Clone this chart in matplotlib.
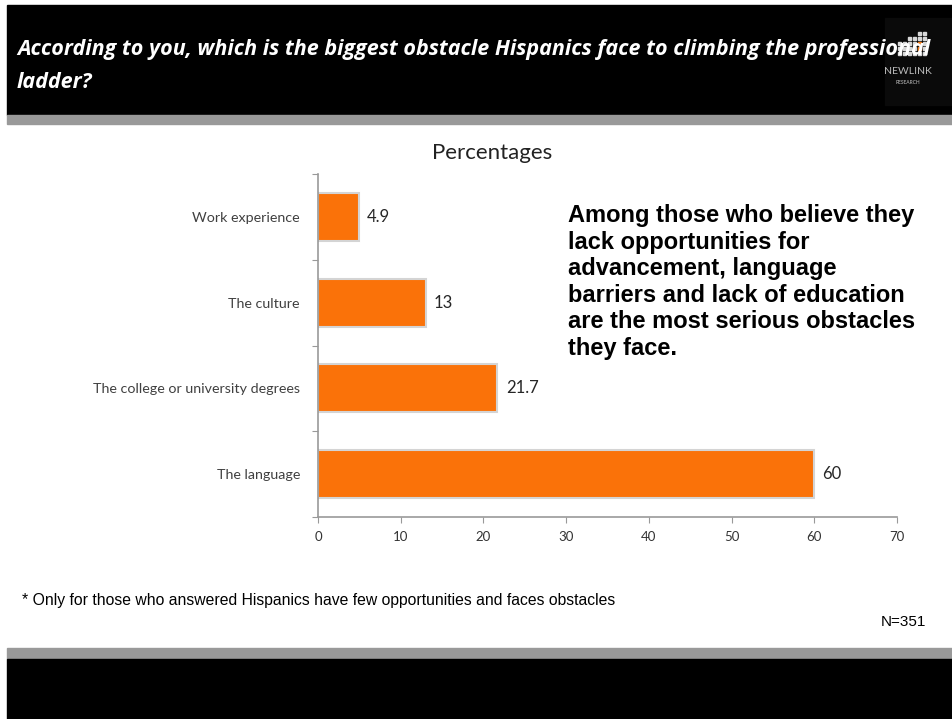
import numpy as np
import matplotlib.pyplot as plt
from matplotlib.patches import Rectangle

# Survey answers, bottom to top
categories = ['The language', 'The college or university degrees',
              'The culture', 'Work experience']
percentages = [60, 21.7, 13, 4.9]
value_labels = ['60', '21.7', '13', '4.9']
x_ticks = [0, 10, 20, 30, 40, 50, 60, 70]

question_lines = ['According to you, which is the biggest obstacle Hispanics face to climbing the professional',
                  'ladder?']
takeaway = ('Among those who believe they\n'
            'lack opportunities for\n'
            'advancement, language\n'
            'barriers and lack of education\n'
            'are the most serious obstacles\n'
            'they face.')
footnote = '* Only for those who answered Hispanics have few opportunities and faces obstacles'
sample = 'N=351'

W, H = 952, 719
fig = plt.figure(figsize=(W / 100, H / 100), dpi=100)
fig.patch.set_facecolor('white')

# background bands in pixel coords (converted to figure fraction)
def band(x0, y0, x1, y1, color, z=0):
    fig.patches.append(Rectangle((x0 / W, 1 - y1 / H), (x1 - x0) / W, (y1 - y0) / H,
                                 transform=fig.transFigure, color=color, zorder=z))

band(7, 5, W, 115, 'black')
band(7, 115, W, 124, '#999999')
band(7, 648, W, 659, '#999999')
band(7, 659, W, H, 'black')
band(885, 18, W, 105, '#0a0a0a', z=1)

# small logo
for i in range(6):
    for j in range(3 + i // 2):
        c = '#f07a18' if (i == 4 and j in (1, 2)) else '#d8d8d8'
        band(898 + i * 5, 52 - j * 5, 901 + i * 5, 55 - j * 5, c, z=2)
fig.text(908 / W, 1 - 71 / H, 'NEWLINK', color='#bbbbbb', fontsize=7.5,
         family='Lato', ha='center', va='center', zorder=3)
fig.text(908 / W, 1 - 83 / H, 'RESEARCH', color='#999999', fontsize=3.5,
         family='Lato', fontweight='bold', ha='center', va='center', zorder=3)

# question header, one text per line
for k, line in enumerate(question_lines):
    fig.text(17 / W, 1 - (50 + 32 * k) / H, line, color='white', fontsize=15.5,
             family='Open Sans', fontweight='bold', fontstyle='italic',
             va='center', ha='left', zorder=4)

# bar chart
ax = fig.add_axes([318 / W, 1 - 517 / H, (897 - 318) / W, (517 - 174) / H])
y = np.arange(len(categories))
ax.barh(y, percentages, height=0.56, color='#fa7209', edgecolor='#d4d4d4',
        linewidth=1.5, zorder=2)
for yi, v, lab in zip(y, percentages, value_labels):
    ax.text(v + 1.0, yi, lab, va='center', ha='left', fontsize=12,
            family='Lato', color='#262626')

ax.set_xlim(0, 70)
ax.set_ylim(-0.5, len(categories) - 0.5)
ax.set_xticks(x_ticks)
ax.set_xticklabels([str(t) for t in x_ticks], family='Lato', fontsize=9.5, color='#333333')
ax.set_yticks(np.arange(-0.5, len(categories), 1.0))
ax.set_yticklabels([])
ax.set_yticks(y, minor=True)
ax.set_yticklabels(categories, minor=True, family='Lato', fontsize=10.3, color='#404040')
ax.tick_params(axis='y', which='minor', length=0, pad=13)
ax.tick_params(axis='y', which='major', length=4, color='#999999')
ax.tick_params(axis='x', length=4, color='#999999', pad=6)
for s in ['top', 'right']:
    ax.spines[s].set_visible(False)
for s in ['left', 'bottom']:
    ax.spines[s].set_color('#999999')
    ax.spines[s].set_linewidth(1.2)

fig.text(492 / W, 1 - 159 / H, 'Percentages', fontsize=16, family='Lato',
         color='#222222', ha='center', va='baseline')

fig.text(568 / W, 1 - 204 / H, takeaway, fontsize=17, family='Liberation Sans',
         fontweight='bold', color='black', ha='left', va='top', linespacing=1.2)

fig.text(22 / W, 1 - 600 / H, footnote, fontsize=11.3,
         family='Liberation Sans', color='black', ha='left', va='center')
fig.text(926 / W, 1 - 622 / H, sample, fontsize=11,
         family='Liberation Sans', color='black', ha='right', va='center')

fig.savefig('out.png', dpi=100)
